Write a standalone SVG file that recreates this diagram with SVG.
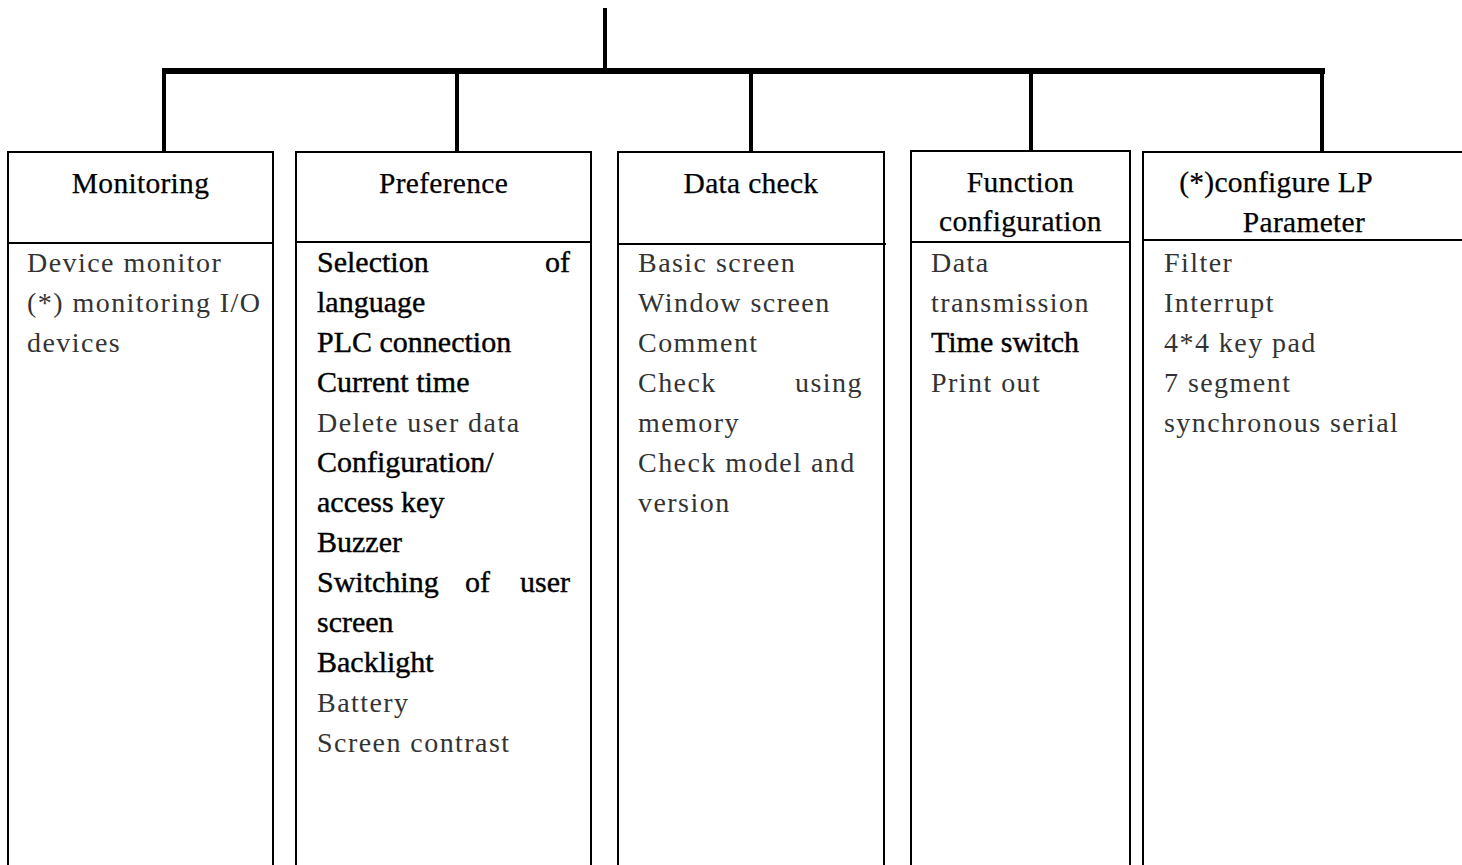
<svg xmlns="http://www.w3.org/2000/svg" width="1462" height="865" viewBox="0 0 1462 865">
<style>
.box{fill:#fff;stroke:#000;stroke-width:2}
.div{stroke:#000;stroke-width:2}
.conn{stroke:#000;stroke-width:4;fill:none}
.hd{font-family:"Liberation Serif","Times New Roman",serif;font-size:29.5px;fill:#000;stroke:#000;stroke-width:0.25;text-anchor:middle;letter-spacing:0.3px}
.g{font-family:"Liberation Serif","Times New Roman",serif;font-size:28px;fill:#333;letter-spacing:1.45px}
.b{font-family:"Liberation Serif","Times New Roman",serif;font-size:30px;fill:#000;stroke:#000;stroke-width:0.4}
</style>
<rect width="1462" height="865" fill="#fff"/>
<g id="connectors">
<line class="conn" x1="605" y1="8" x2="605" y2="71"/>
<line x1="162" y1="71" x2="1325" y2="71" stroke="#000" stroke-width="6"/>
<line class="conn" x1="164" y1="71" x2="164" y2="152"/>
<line class="conn" x1="457" y1="71" x2="457" y2="152"/>
<line class="conn" x1="751" y1="71" x2="751" y2="152"/>
<line class="conn" x1="1031" y1="71" x2="1031" y2="151"/>
<line class="conn" x1="1322" y1="71" x2="1322" y2="152"/>
</g>
<g id="monitoring">
<rect class="box" x="8" y="152" width="265" height="720"/>
<line class="div" x1="8" y1="243" x2="273" y2="243"/>
<text class="hd" x="140.5" y="193">Monitoring</text>
<text class="g" x="27" y="272">Device monitor</text>
<text class="g" x="27" y="312">(*) monitoring I/O</text>
<text class="g" x="27" y="352">devices</text>
</g>
<g id="preference">
<rect class="box" x="296" y="152" width="295" height="720"/>
<line class="div" x1="296" y1="242" x2="591" y2="242"/>
<text class="hd" x="443.5" y="193">Preference</text>
<text class="b" x="317" y="272">Selection</text>
<text class="b" x="570" y="272" text-anchor="end">of</text>
<text class="b" x="317" y="312">language</text>
<text class="b" x="317" y="352">PLC connection</text>
<text class="b" x="317" y="392">Current time</text>
<text class="g" x="317" y="432">Delete user data</text>
<text class="b" x="317" y="472">Configuration/</text>
<text class="b" x="317" y="512">access key</text>
<text class="b" x="317" y="552">Buzzer</text>
<text class="b" x="317" y="592">Switching</text>
<text class="b" x="465" y="592">of</text>
<text class="b" x="570" y="592" text-anchor="end">user</text>
<text class="b" x="317" y="632">screen</text>
<text class="b" x="317" y="672">Backlight</text>
<text class="g" x="317" y="712">Battery</text>
<text class="g" x="317" y="752">Screen contrast</text>
</g>
<g id="datacheck">
<rect class="box" x="618" y="152" width="266" height="720"/>
<line class="div" x1="618" y1="244" x2="886" y2="244"/>
<text class="hd" x="751" y="193">Data check</text>
<text class="g" x="638" y="272">Basic screen</text>
<text class="g" x="638" y="312">Window screen</text>
<text class="g" x="638" y="352">Comment</text>
<text class="g" x="638" y="392">Check</text>
<text class="g" x="863" y="392" text-anchor="end" letter-spacing="0">using</text>
<text class="g" x="638" y="432">memory</text>
<text class="g" x="638" y="472">Check model and</text>
<text class="g" x="638" y="512">version</text>
</g>
<g id="function">
<rect class="box" x="911" y="151" width="219" height="720"/>
<line class="div" x1="911" y1="242" x2="1130" y2="242"/>
<text class="hd" x="1020.5" y="192">Function</text>
<text class="hd" x="1020.5" y="231">configuration</text>
<text class="g" x="931" y="272">Data</text>
<text class="g" x="931" y="312">transmission</text>
<text class="b" x="931" y="352">Time switch</text>
<text class="g" x="931" y="392">Print out</text>
</g>
<g id="lpparam">
<rect class="box" x="1143" y="152" width="330" height="720"/>
<line class="div" x1="1143" y1="240" x2="1462" y2="240"/>
<text class="hd" x="1276" y="192">(*)configure LP</text>
<text class="hd" x="1304" y="232">Parameter</text>
<text class="g" x="1164" y="272">Filter</text>
<text class="g" x="1164" y="312">Interrupt</text>
<text class="g" x="1164" y="352">4*4 key pad</text>
<text class="g" x="1164" y="392">7 segment</text>
<text class="g" x="1164" y="432">synchronous serial</text>
</g>
</svg>
